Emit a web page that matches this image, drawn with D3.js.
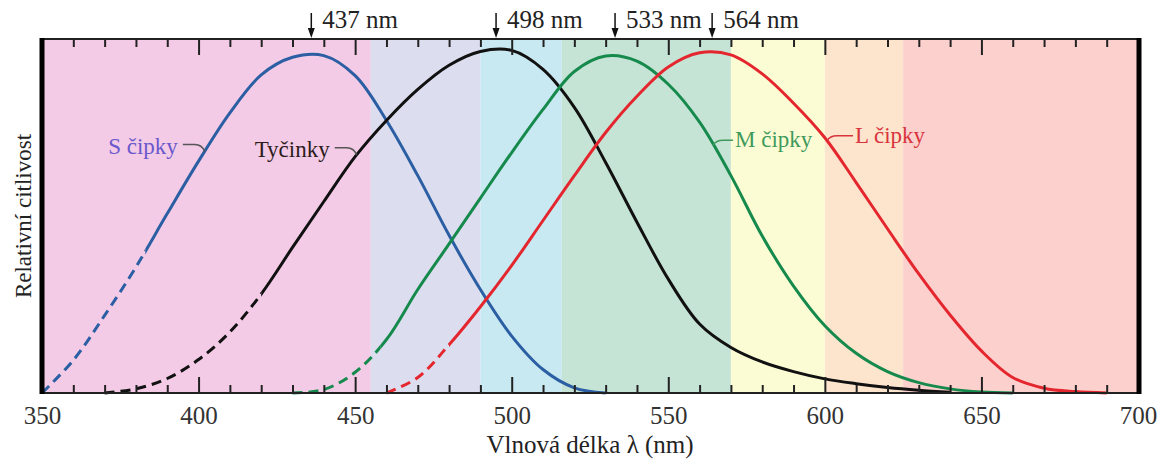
<!DOCTYPE html>
<html>
<head>
<meta charset="utf-8">
<script src="https://cdn.jsdelivr.net/npm/d3@7"></script>
<style>
  body { margin: 0; background: #fff; }
  text { font-family: "Liberation Serif", "Times New Roman", serif; }
</style>
</head>
<body>
<script>
'use strict';

// wavelength grid (nm) shared by all curves
const wavelengths = [350, 360, 370, 380, 390, 400, 410, 420, 430, 440, 450, 460,
    470, 480, 490, 500, 510, 520, 530, 540, 550, 560, 570, 580,
    590, 600, 610, 620, 630, 640, 650, 660, 670, 680, 690, 700];

// relative sensitivity (null = no curve there)
const sCones = [0, 0.095, 0.225, 0.365, 0.52, 0.672, 0.812, 0.922, 0.973, 0.978, 0.92, 0.79,
    0.63, 0.457, 0.30, 0.165, 0.068, 0.015, 0, null, null, null, null, null,
    null, null, null, null, null, null, null, null, null, null, null, null];
const rods = [null, null, 0, 0.012, 0.042, 0.097, 0.177, 0.287, 0.422, 0.555, 0.685, 0.79,
    0.88, 0.95, 0.99, 0.993, 0.938, 0.828, 0.668, 0.495, 0.33, 0.20, 0.132, 0.09,
    0.062, 0.041, 0.027, 0.016, 0.008, 0.002, null, null, null, null, null, null];
const mCones = [null, null, null, null, null, null, null, null, 0, 0.01, 0.06, 0.155,
    0.30, 0.432, 0.565, 0.697, 0.822, 0.932, 0.977, 0.962, 0.895, 0.785, 0.63, 0.455,
    0.31, 0.195, 0.115, 0.062, 0.03, 0.012, 0.003, 0, null, null, null, null];
const lCones = [null, null, null, null, null, null, null, null, null, null, null, 0,
    0.045, 0.14, 0.25, 0.37, 0.50, 0.63, 0.755, 0.86, 0.945, 0.986, 0.98, 0.925,
    0.84, 0.74, 0.61, 0.476, 0.345, 0.226, 0.122, 0.045, 0.014, 0.004, 0, null];

const seriesNames = ["S čipky", "Tyčinky", "M čipky", "L čipky"];
const seriesValues = [sCones, rods, mCones, lCones];
const dashedUntil = [383, 420, 458, 480];   // measured part starts here
const labelAt = [402, 450.5, 564.3, 600.7];   // where the label hook touches the curve

const peakNm = [436, 495, 533, 564];
const peakLabels = ["437 nm", "498 nm", "533 nm", "564 nm"];

const bandEdges = [350, 455, 490, 516, 570, 600, 625, 700];
const bandColors = ["#f3cbe6", "#dcdef0", "#c8e8f2", "#c6e4d6", "#fcfcd4", "#fde4cd", "#fcd0cd"];

const majorTicks = [350, 400, 450, 500, 550, 600, 650, 700];

const lineColors = ["#2b5ea2", "#111111", "#168a4c", "#e4262e"];
const textColors = ["#6a58cc", "#2b1b1b", "#3f9a5c", "#d8343c"];
const hookColors = ["#555555", "#555555", "#3f9a5c", "#d8343c"];

const width = 1161, height = 463;
const plotLeft = 42, plotRight = 1138, plotTop = 39, plotBottom = 393;

const svg = d3.select("body").append("svg")
    .attr("width", width)
    .attr("height", height);

const x = d3.scaleLinear().domain([350, 700]).range([plotLeft, plotRight]);
const y = d3.scaleLinear().domain([0, 1]).range([plotBottom, 48]);

// coloured spectrum bands
svg.append("g")
    .selectAll("rect")
    .data(bandColors)
    .enter().append("rect")
    .attr("x", (d, i) => x(bandEdges[i]))
    .attr("width", (d, i) => x(bandEdges[i + 1]) - x(bandEdges[i]))
    .attr("y", plotTop)
    .attr("height", plotBottom - plotTop)
    .attr("fill", d => d);

// clip paths: dashed part left of the cut, solid part right of it
let defs = svg.append("defs");
dashedUntil.forEach(function(cut, i) {
    defs.append("clipPath").attr("id", "dash" + i)
        .append("rect")
        .attr("x", plotLeft).attr("y", 0)
        .attr("width", x(cut) - plotLeft).attr("height", height);
    defs.append("clipPath").attr("id", "solid" + i)
        .append("rect")
        .attr("x", x(cut)).attr("y", 0)
        .attr("width", plotRight - x(cut)).attr("height", height);
});

let line = d3.line()
    .defined(d => d.v !== null)
    .x(d => x(d.nm))
    .y(d => y(d.v))
    .curve(d3.curveCatmullRom.alpha(0.5));

let curves = svg.append("g");
seriesValues.forEach(function(vals, i) {
    let pts = wavelengths.map((nm, j) => ({ nm: nm, v: vals[j] }));
    curves.append("path")
        .attr("d", line(pts))
        .attr("clip-path", "url(#dash" + i + ")")
        .attr("fill", "none")
        .attr("stroke", lineColors[i])
        .attr("stroke-width", 3)
        .attr("stroke-dasharray", "10,6");
    curves.append("path")
        .attr("d", line(pts))
        .attr("clip-path", "url(#solid" + i + ")")
        .attr("fill", "none")
        .attr("stroke", lineColors[i])
        .attr("stroke-width", 3);
});

// value of a series at any wavelength (linear between grid points)
function valueAt(vals, nm) {
    let i = d3.bisectRight(wavelengths, nm) - 1;
    let t = (nm - wavelengths[i]) / (wavelengths[i + 1] - wavelengths[i]);
    return vals[i] + t * (vals[i + 1] - vals[i]);
}

// curve labels with their little hooks
let labels = svg.append("g");
seriesNames.forEach(function(name, i) {
    let ax = x(labelAt[i]);
    let ay = y(valueAt(seriesValues[i], labelAt[i]));
    let hook, tx, anchor;
    if (i < 2) {
        hook = "M" + (ax - 22) + "," + (ay - 7) + "L" + (ax - 10) + "," + (ay - 7) +
            "Q" + (ax - 3) + "," + (ay - 7) + " " + ax + "," + ay;
        tx = ax - 27;
        anchor = "end";
    } else {
        let len = i === 2 ? 20 : 26;
        hook = "M" + ax + "," + ay + "Q" + (ax + 3) + "," + (ay - 5) + " " + (ax + 10) + "," + (ay - 5) +
            "L" + (ax + len) + "," + (ay - 5);
        tx = ax + len + 2;
        anchor = "start";
    }
    labels.append("path")
        .attr("d", hook)
        .attr("fill", "none")
        .attr("stroke", hookColors[i])
        .attr("stroke-width", 1.5);
    labels.append("text")
        .attr("x", tx)
        .attr("y", ay - 6)
        .attr("dy", "0.35em")
        .attr("text-anchor", anchor)
        .attr("fill", textColors[i])
        .style("font-size", "23px")
        .text(name);
});

// ticks: minor every 10 nm, major every 50 nm, all pointing inwards
let minorTicks = d3.range(350, 701, 10).filter(t => majorTicks.indexOf(t) < 0);

function styleAxis(g) {
    g.select(".domain").remove();
    g.selectAll(".tick line").attr("stroke", "#222").attr("stroke-width", 2);
}

svg.append("g")
    .attr("transform", "translate(0," + plotBottom + ")")
    .call(d3.axisBottom(x).tickValues(minorTicks).tickSize(-8).tickFormat(""))
    .call(styleAxis);
svg.append("g")
    .attr("transform", "translate(0," + plotBottom + ")")
    .call(d3.axisBottom(x).tickValues(majorTicks).tickSize(-16).tickPadding(13).tickFormat(d3.format("d")))
    .call(styleAxis)
    .call(g => g.selectAll(".tick text")
        .attr("fill", "#333")
        .style("font-size", "25px")
        .style("font-family", "'Liberation Serif', serif"));
svg.append("g")
    .attr("transform", "translate(0," + plotTop + ")")
    .call(d3.axisTop(x).tickValues(minorTicks).tickSize(-8).tickFormat(""))
    .call(styleAxis);
svg.append("g")
    .attr("transform", "translate(0," + plotTop + ")")
    .call(d3.axisTop(x).tickValues(majorTicks).tickSize(-16).tickFormat(""))
    .call(styleAxis);

// frame
svg.append("line").attr("x1", plotLeft).attr("x2", plotRight).attr("y1", plotTop).attr("y2", plotTop)
    .attr("stroke", "#222").attr("stroke-width", 2);
svg.append("line").attr("x1", plotLeft).attr("x2", plotRight).attr("y1", plotBottom).attr("y2", plotBottom)
    .attr("stroke", "#222").attr("stroke-width", 2);
svg.append("line").attr("x1", plotLeft).attr("x2", plotLeft).attr("y1", plotTop - 1).attr("y2", plotBottom + 1)
    .attr("stroke", "#000").attr("stroke-width", 5);
svg.append("line").attr("x1", plotRight + 1).attr("x2", plotRight + 1).attr("y1", plotTop - 1).attr("y2", plotBottom + 1)
    .attr("stroke", "#000").attr("stroke-width", 5);

// peak markers on top
let peaks = svg.append("g");
peakNm.forEach(function(nm, i) {
    let px = x(nm);
    peaks.append("line")
        .attr("x1", px).attr("x2", px)
        .attr("y1", 13).attr("y2", 30)
        .attr("stroke", "#111").attr("stroke-width", 1.5);
    peaks.append("path")
        .attr("d", "M" + (px - 3.5) + ",28L" + (px + 3.5) + ",28L" + px + ",38Z")
        .attr("fill", "#111");
    peaks.append("text")
        .attr("x", px + 11)
        .attr("y", 28)
        .attr("fill", "#222")
        .style("font-size", "25px")
        .text(peakLabels[i]);
});

// axis titles
svg.append("text")
    .attr("x", (plotLeft + plotRight) / 2)
    .attr("y", 453)
    .attr("text-anchor", "middle")
    .attr("fill", "#222")
    .style("font-size", "25px")
    .text("Vlnová délka λ (nm)");

svg.append("text")
    .attr("transform", "translate(31," + 216 + ") rotate(-90)")
    .attr("text-anchor", "middle")
    .attr("fill", "#222")
    .style("font-size", "23px")
    .text("Relativní citlivost");
</script>
</body>
</html>
